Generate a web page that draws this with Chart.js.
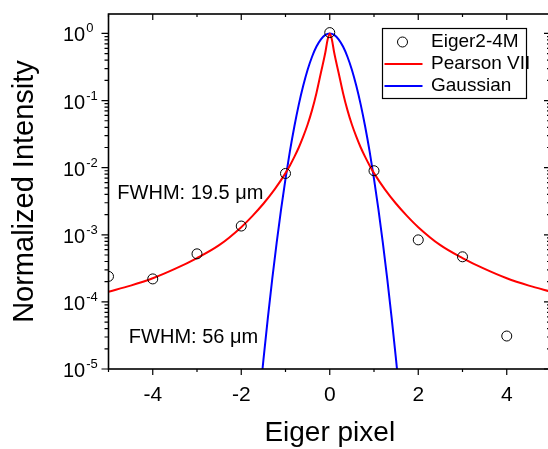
<!DOCTYPE html>
<html>
<head>
<meta charset="utf-8">
<script src="https://cdn.jsdelivr.net/npm/chart.js@4.4.0/dist/chart.umd.min.js"></script>
<style>
html, body { margin: 0; padding: 0; overflow: hidden; background: #fff; }
#wrap { width: 557px; height: 449px; }
</style>
</head>
<body>
<div id="wrap"><canvas id="peak" width="557" height="449"></canvas></div>
<script>
var pixels = [-5, -4, -3, -2, -1, 0, 1, 2, 3, 4];
var eigerValues = [2.4e-4, 2.2e-4, 5.2e-4, 1.35e-3, 8.2e-3, 1.03, 9.0e-3, 8.4e-4, 4.7e-4, 3.1e-5];

// Pearson VII fit curve
var pearsonX = [-5, -4.5, -4, -3.5, -3, -2.5, -2, -1.75, -1.5, -1.25, -1, -0.9, -0.8, -0.7, -0.6, -0.5, -0.4, -0.3, -0.2, -0.1, -0.05,
                0, 0.05, 0.1, 0.2, 0.3, 0.4, 0.5, 0.6, 0.7, 0.8, 0.9, 1, 1.25, 1.5, 1.75, 2, 2.5, 3, 3.5, 4, 4.5, 5];
var pearsonY = [1.42e-4, 1.75e-4, 2.25e-4, 3.1e-4, 4.5e-4, 7.0e-4, 1.3e-3, 1.9e-3, 2.9e-3, 4.7e-3, 8.3e-3, 1.08e-2, 1.45e-2, 2.0e-2, 2.9e-2, 4.4e-2, 7.2e-2, 0.13, 0.26, 0.52, 0.8,
                1.0, 0.8, 0.52, 0.26, 0.13, 7.2e-2, 4.4e-2, 2.9e-2, 2.0e-2, 1.45e-2, 1.08e-2, 8.3e-3, 4.7e-3, 2.9e-3, 1.9e-3, 1.3e-3, 7.0e-4, 4.5e-4, 3.1e-4, 2.25e-4, 1.75e-4, 1.42e-4];

// Gaussian fit curve
var gaussX = [-1.55, -1.5, -1.4, -1.3, -1.2, -1.1, -1.0, -0.9, -0.8, -0.7, -0.6, -0.5, -0.4, -0.3, -0.2, -0.1,
              0, 0.1, 0.2, 0.3, 0.4, 0.5, 0.6, 0.7, 0.8, 0.9, 1.0, 1.1, 1.2, 1.3, 1.4, 1.5, 1.55];
var gaussY = [6.3e-6, 1.34e-5, 5.7e-5, 2.19e-4, 7.6e-4, 2.4e-3, 6.8e-3, 1.76e-2, 4.1e-2, 8.7e-2, 0.166, 0.288, 0.45, 0.638, 0.819, 0.951,
              1.0, 0.951, 0.819, 0.638, 0.45, 0.288, 0.166, 8.7e-2, 4.1e-2, 1.76e-2, 6.8e-3, 2.4e-3, 7.6e-4, 2.19e-4, 5.7e-5, 1.34e-5, 6.3e-6];

var seriesNames = ['Eiger2-4M', 'Pearson VII', 'Gaussian'];
var xLabelValues = [-4, -2, 0, 2, 4];
var yDecades = [0, -1, -2, -3, -4, -5];
var notes = ['FWHM: 19.5 \u03bcm', 'FWHM: 56 \u03bcm'];
var noteX = [-4.8, -4.54];
var noteY = [4.1e-3, 2.9e-5];

var xMin = -5, xMax = 5, yMin = 1e-5, yMax = 1.95;
var FONT = "'Liberation Sans', Arial, sans-serif";

function toPoints(xs, ys) {
    var out = [];
    for (var i = 0; i < xs.length; i++) out.push({ x: xs[i], y: ys[i] });
    return out;
}

// frame, ticks on all four sides, y labels with exponents, notes, legend
var decor = {
    id: 'decor',
    afterDatasetsDraw: function (chart) {
        var ctx = chart.ctx, a = chart.chartArea;
        var xs = chart.scales.x, ys = chart.scales.y;
        ctx.save();
        ctx.strokeStyle = '#000';
        ctx.lineWidth = 1.6;
        ctx.strokeRect(a.left, a.top, a.right - a.left, a.bottom - a.top);

        ctx.lineWidth = 1.2;
        ctx.beginPath();
        for (var v = xMin; v <= xMax; v++) {
            var px = xs.getPixelForValue(v);
            var len = (v % 2 === 0) ? 6 : 3;
            ctx.moveTo(px, a.bottom); ctx.lineTo(px, a.bottom + len);
            ctx.moveTo(px, a.top); ctx.lineTo(px, a.top + len);
        }
        for (var k = -5; k <= 0; k++) {
            for (var m = 1; m <= 9; m++) {
                var val = m * Math.pow(10, k);
                if (val > yMax) break;
                var py = ys.getPixelForValue(val);
                var l = (m === 1) ? 7 : 4;
                ctx.moveTo(a.left, py); ctx.lineTo(a.left - l, py);
                ctx.moveTo(a.right, py); ctx.lineTo(a.right - l, py);
            }
        }
        ctx.stroke();

        // y tick labels: 10 with a raised exponent
        ctx.fillStyle = '#000';
        ctx.textAlign = 'left';
        ctx.textBaseline = 'alphabetic';
        yDecades.forEach(function (e) {
            var py = ys.getPixelForValue(Math.pow(10, e));
            var lx = a.left - 45.5;
            ctx.font = '20px ' + FONT;
            ctx.fillText('10', lx, py + 8);
            var w = ctx.measureText('10').width;
            ctx.font = '13px ' + FONT;
            ctx.fillText(String(e), lx + w + 1, py - 1);
        });

        // notes
        ctx.font = '20px ' + FONT;
        ctx.textBaseline = 'middle';
        notes.forEach(function (t, i) {
            ctx.fillText(t, xs.getPixelForValue(noteX[i]), ys.getPixelForValue(noteY[i]));
        });
        ctx.restore();
    },
    afterDraw: function (chart) {
        var ctx = chart.ctx, a = chart.chartArea;
        var ds = chart.data.datasets;
        var bx = a.right - 168.5, by = a.top + 14.5, bw = 144, bh = 70;
        ctx.save();
        ctx.fillStyle = '#fff';
        ctx.fillRect(bx, by, bw, bh);
        ctx.strokeStyle = '#000';
        ctx.lineWidth = 1.2;
        ctx.strokeRect(bx, by, bw, bh);
        ctx.font = '19px ' + FONT;
        ctx.textBaseline = 'middle';
        ctx.textAlign = 'left';
        for (var i = 0; i < ds.length; i++) {
            var ry = by + 13.5 + i * 22;
            if (ds[i].showLine) {
                ctx.strokeStyle = ds[i].borderColor;
                ctx.lineWidth = 2;
                ctx.beginPath();
                ctx.moveTo(bx + 2, ry); ctx.lineTo(bx + 40, ry);
                ctx.stroke();
            } else {
                ctx.strokeStyle = '#000';
                ctx.lineWidth = 1;
                ctx.beginPath();
                ctx.arc(bx + 20, ry, 5, 0, Math.PI * 2);
                ctx.stroke();
            }
            ctx.fillStyle = '#000';
            ctx.fillText(ds[i].label, bx + 48.5, ry);
        }
        ctx.restore();
    }
};

var config = {
    type: 'scatter',
    data: {
        datasets: [
            {
                label: seriesNames[0],
                data: toPoints(pixels, eigerValues),
                showLine: false,
                pointRadius: 5,
                pointBorderWidth: 1,
                pointBorderColor: '#000',
                pointBackgroundColor: 'rgba(0,0,0,0)'
            },
            {
                label: seriesNames[1],
                data: toPoints(pearsonX, pearsonY),
                showLine: true,
                borderColor: '#ff0000',
                borderWidth: 2,
                pointRadius: 0,
                cubicInterpolationMode: 'monotone'
            },
            {
                label: seriesNames[2],
                data: toPoints(gaussX, gaussY),
                showLine: true,
                borderColor: '#0000ff',
                borderWidth: 2,
                pointRadius: 0,
                cubicInterpolationMode: 'monotone'
            }
        ]
    },
    options: {
        responsive: false,
        animation: false,
        devicePixelRatio: 1,
        layout: { padding: { top: 14, right: 0, left: 0, bottom: 0 } },
        plugins: {
            legend: { display: false },
            tooltip: { enabled: false }
        },
        scales: {
            x: {
                type: 'linear',
                min: xMin,
                max: xMax,
                grid: { display: false, drawTicks: true, tickLength: 14 },
                border: { display: false },
                ticks: {
                    stepSize: 1,
                    padding: 0,
                    color: '#000',
                    font: { family: FONT, size: 21 },
                    callback: function (value) {
                        return xLabelValues.indexOf(value) >= 0 ? String(value) : '';
                    }
                },
                title: {
                    display: true,
                    text: 'Eiger pixel',
                    color: '#000',
                    font: { family: FONT, size: 28, lineHeight: 1 },
                    padding: { top: 0, bottom: 2 }
                },
                afterFit: function (scale) { scale.height = 80; }
            },
            y: {
                type: 'logarithmic',
                min: yMin,
                max: yMax,
                grid: { display: false, drawTicks: false },
                border: { display: false },
                ticks: { display: false },
                title: {
                    display: true,
                    text: 'Normalized Intensity',
                    color: '#000',
                    font: { family: FONT, size: 29, lineHeight: 1.2 },
                    padding: { top: 8, bottom: 0 }
                },
                afterFit: function (scale) { scale.width = 108.5; }
            }
        }
    },
    plugins: [decor]
};

new Chart(document.getElementById('peak'), config);
</script>
</body>
</html>
